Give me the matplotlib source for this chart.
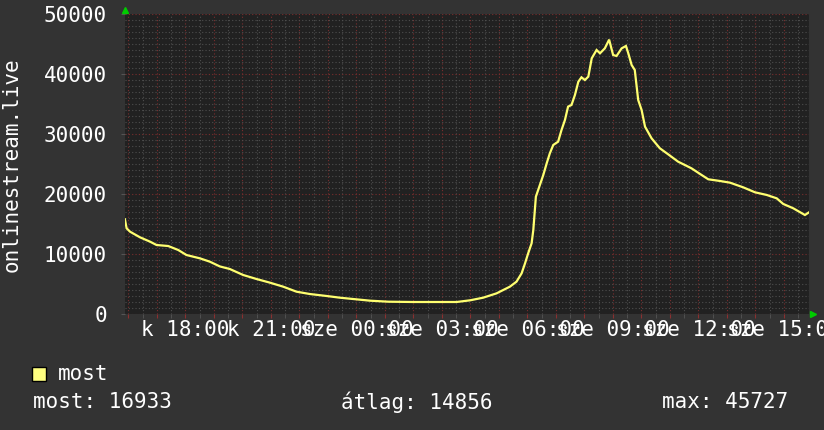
import numpy as np
import matplotlib
matplotlib.use("Agg")
import matplotlib.pyplot as plt
from matplotlib.patches import Rectangle

plt.rcParams['font.family'] = ['DejaVu Sans Mono', 'DejaVu Sans']

# clock hours (24+ = next day) and viewer counts
times = [15.88, 15.94, 16.06, 16.41, 16.76, 16.99, 17.40, 17.75, 18.04, 18.51,
         18.86, 19.21, 19.56, 20.03, 20.50, 20.97, 21.43, 21.90, 22.37, 22.96,
         23.42, 24.01, 24.48, 25.12, 26.00, 27.52, 27.99, 28.45, 28.92, 29.39,
         29.62, 29.80, 29.92, 30.03, 30.15, 30.21, 30.30, 30.44, 30.56, 30.68,
         30.79, 30.91, 31.08, 31.20, 31.32, 31.43, 31.55, 31.67, 31.79, 31.90,
         32.02, 32.14, 32.26, 32.43, 32.55, 32.72, 32.87, 33.01, 33.13, 33.31,
         33.46, 33.54, 33.66, 33.77, 33.89, 34.01, 34.13, 34.36, 34.65, 34.94,
         35.29, 35.76, 36.06, 36.35, 36.76, 37.11, 37.57, 37.99, 38.40, 38.75,
         38.98, 39.33, 39.74, 39.88]
viewers = [15780, 14280, 13720, 12780, 12060, 11500, 11330, 10670, 9830, 9280,
           8720, 7930, 7500, 6500, 5830, 5220, 4560, 3720, 3330, 3000,
           2720, 2440, 2220, 2050, 2000, 2000, 2280, 2720, 3440, 4560,
           5390, 6780, 8450, 10120, 11780, 14000, 19550, 21500, 23170, 25120,
           26780, 28170, 28720, 30670, 32340, 34560, 34840, 36500, 38720, 39450,
           39000, 39560, 42620, 44000, 43450, 44280, 45727, 43170, 43000, 44280,
           44670, 43500, 41500, 40670, 35670, 34000, 31220, 29280, 27620, 26620,
           25390, 24280, 23340, 22450, 22170, 21890, 21120, 20280, 19840, 19280,
           18340, 17620, 16500, 16933]

label_hours = [18, 21, 24, 27, 30, 33, 36, 39]
label_texts = ["k 18:00", "k 21:00", "sze 00:00", "sze 03:00",
               "sze 06:00", "sze 09:00", "sze 12:00", "sze 15:00"]
y_ticks = [0, 10000, 20000, 30000, 40000, 50000]
series_name = "most"
stat_texts = ["most: 16933", "átlag: 14856", "max: 45727"]
y_title = "onlinestream.live"

t_start, t_end = 15 + 53 / 60, 39 + 53 / 60

W, H = 824, 430
fig = plt.figure(figsize=(W / 100, H / 100), dpi=100, facecolor='#333333')
ax = fig.add_axes([125 / W, 116 / H, 684 / W, 300 / H])
ax.set_facecolor('#212121')
ax.set_xlim(t_start, t_end)
ax.set_ylim(0, 50000)

# grid: grey dotted minor, red dotted major
hours = np.arange(16, 40)
ax.set_xticks(hours)
ax.set_xticks(np.arange(16.5, 40, 1.0), minor=True)
ax.set_xticklabels([label_texts[label_hours.index(h)] if h in label_hours else ''
                    for h in hours])
ax.set_yticks(y_ticks)
ax.set_yticks(np.arange(0, 50001, 1000), minor=True)
ax.set_yticklabels([str(v) for v in y_ticks])

ax.grid(which='minor', color='#4e4e4e', linestyle=(0, (1, 2)), linewidth=0.8)
ax.grid(which='major', color='#7a2e2e', linestyle=(0, (1, 2)), linewidth=0.8)
ax.set_axisbelow(True)

ax.tick_params(axis='x', which='major', length=3, color='#8a3030',
               labelsize=15, labelcolor='white', pad=1)
ax.tick_params(axis='x', which='minor', length=3, color='#555555')
ax.tick_params(axis='y', which='major', length=3, color='#555555',
               labelsize=15, labelcolor='white', pad=10)
ax.tick_params(axis='y', which='minor', length=0)
for s in ax.spines.values():
    s.set_visible(False)

ax.plot(times, viewers, color='#ffff70', linewidth=1.6, solid_joinstyle='miter')

# green axis arrows
ax.plot(0, 1.012, marker='^', color='#00cc00', markersize=5,
        transform=ax.transAxes, clip_on=False)
ax.plot(1.006, 0, marker='>', color='#00cc00', markersize=5,
        transform=ax.transAxes, clip_on=False)

fig.text(12 / W, 1 - 165 / H, y_title, rotation=90, ha='center', va='center',
         color='white', fontsize=15)

# legend and stats
fig.add_artist(Rectangle((32 / W, 1 - 381 / H), 14 / W, 14 / H,
                         transform=fig.transFigure, facecolor='#ffff80',
                         edgecolor='black', linewidth=1))
fig.text(58 / W, 1 - 374 / H, series_name, ha='left', va='center',
         color='white', fontsize=15)
for x, s in zip([33, 341, 662], stat_texts):
    fig.text(x / W, 1 - 402 / H, s, ha='left', va='center', color='white', fontsize=15)

fig.savefig("out.png", dpi=100, facecolor=fig.get_facecolor())
